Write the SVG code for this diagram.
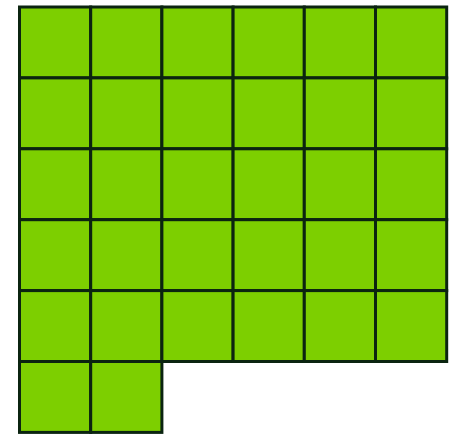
<svg xmlns="http://www.w3.org/2000/svg" width="460" height="434" viewBox="0 0 460 434">
<style>
.c{fill:#7dcf00;stroke:#0b2410;stroke-width:3}
</style>
<rect width="460" height="434" fill="#ffffff"/>
<g id="grid">
<g id="row1">
<rect class="c" x="19.5" y="7" width="71.2" height="70.9"/>
<rect class="c" x="90.7" y="7" width="71.2" height="70.9"/>
<rect class="c" x="161.9" y="7" width="71.2" height="70.9"/>
<rect class="c" x="233.1" y="7" width="71.2" height="70.9"/>
<rect class="c" x="304.3" y="7" width="71.2" height="70.9"/>
<rect class="c" x="375.5" y="7" width="71.2" height="70.9"/>
</g>
<g id="row2">
<rect class="c" x="19.5" y="77.9" width="71.2" height="70.9"/>
<rect class="c" x="90.7" y="77.9" width="71.2" height="70.9"/>
<rect class="c" x="161.9" y="77.9" width="71.2" height="70.9"/>
<rect class="c" x="233.1" y="77.9" width="71.2" height="70.9"/>
<rect class="c" x="304.3" y="77.9" width="71.2" height="70.9"/>
<rect class="c" x="375.5" y="77.9" width="71.2" height="70.9"/>
</g>
<g id="row3">
<rect class="c" x="19.5" y="148.8" width="71.2" height="70.9"/>
<rect class="c" x="90.7" y="148.8" width="71.2" height="70.9"/>
<rect class="c" x="161.9" y="148.8" width="71.2" height="70.9"/>
<rect class="c" x="233.1" y="148.8" width="71.2" height="70.9"/>
<rect class="c" x="304.3" y="148.8" width="71.2" height="70.9"/>
<rect class="c" x="375.5" y="148.8" width="71.2" height="70.9"/>
</g>
<g id="row4">
<rect class="c" x="19.5" y="219.7" width="71.2" height="70.9"/>
<rect class="c" x="90.7" y="219.7" width="71.2" height="70.9"/>
<rect class="c" x="161.9" y="219.7" width="71.2" height="70.9"/>
<rect class="c" x="233.1" y="219.7" width="71.2" height="70.9"/>
<rect class="c" x="304.3" y="219.7" width="71.2" height="70.9"/>
<rect class="c" x="375.5" y="219.7" width="71.2" height="70.9"/>
</g>
<g id="row5">
<rect class="c" x="19.5" y="290.6" width="71.2" height="70.9"/>
<rect class="c" x="90.7" y="290.6" width="71.2" height="70.9"/>
<rect class="c" x="161.9" y="290.6" width="71.2" height="70.9"/>
<rect class="c" x="233.1" y="290.6" width="71.2" height="70.9"/>
<rect class="c" x="304.3" y="290.6" width="71.2" height="70.9"/>
<rect class="c" x="375.5" y="290.6" width="71.2" height="70.9"/>
</g>
<g id="row6">
<rect class="c" x="19.5" y="361.5" width="71.2" height="70.9"/>
<rect class="c" x="90.7" y="361.5" width="71.2" height="70.9"/>
</g>
</g>
</svg>
